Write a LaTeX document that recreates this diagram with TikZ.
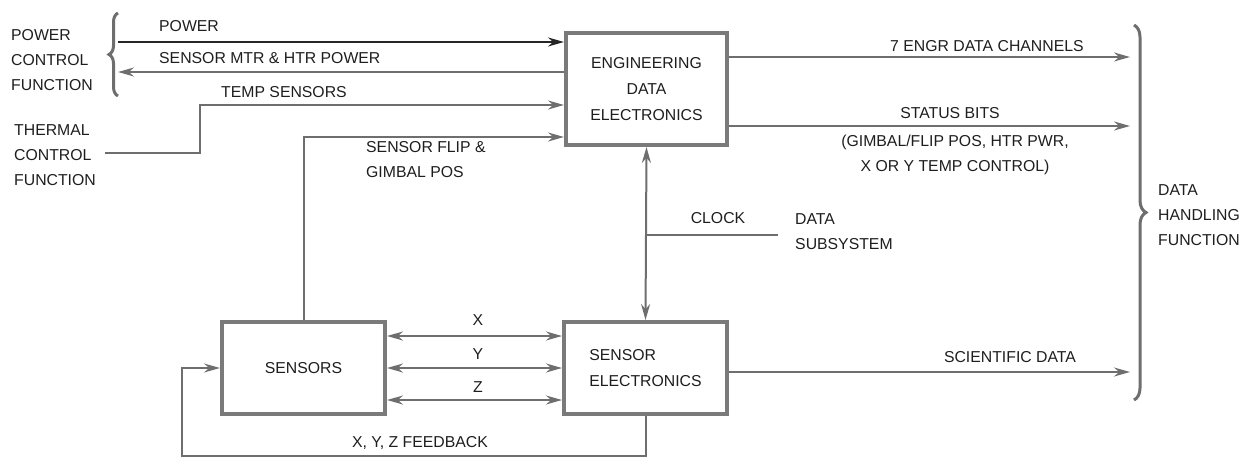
\documentclass[tikz,border=0pt]{standalone}
\usepackage{fontspec}
\setmainfont{Liberation Sans}
\usetikzlibrary{arrows.meta,calc,decorations.pathreplacing}
\definecolor{ln}{HTML}{6E6E6E}
\definecolor{bx}{HTML}{7A7A7A}
\definecolor{tx}{HTML}{1E1E1E}
\tikzset{
  lbl/.style={text=tx,font=\fontsize{15.8}{25}\selectfont,inner sep=0pt},
  blk/.style={draw=bx,line width=4pt,fill=white,text=tx,font=\fontsize{15.8}{26}\selectfont},
  wire/.style={draw=ln,line width=2pt},
  arr/.style={wire,-{Stealth[length=16pt,width=9pt]}},
  arrb/.style={wire,{Stealth[length=16pt,width=9pt]}-{Stealth[length=16pt,width=9pt]}},
  darr/.style={draw=black!85,line width=2pt,-{Stealth[length=16pt,width=9pt]}},
  brc/.style={draw=ln,line width=3pt,decorate},
}
\begin{document}
\begin{tikzpicture}[x=1pt,y=-1pt]
\useasboundingbox (0,0) rectangle (1249,459);
% blocks
\node[blk,minimum width=161pt,minimum height=112pt,align=center] (eng) at (646.5,89) {ENGINEERING\\DATA\\ELECTRONICS};
\node[blk,minimum width=163pt,minimum height=92pt] (sens) at (303.5,368) {SENSORS};
\node[blk,minimum width=163pt,minimum height=92pt,align=left] (se) at (645.5,368) {SENSOR\\ELECTRONICS};
% left side
\node[lbl,align=left,anchor=west] (pcf) at (11,60) {POWER\\CONTROL\\FUNCTION};
\node[lbl,align=left,anchor=west] (tcf) at (14,155) {THERMAL\\CONTROL\\FUNCTION};
\coordinate (b1) at (118,96);
\coordinate (b2) at (118,13);
\draw[brc,decoration={brace,amplitude=9pt}] (b1) -- (b2);
\coordinate (pw) at (118,42);
\coordinate (mtr) at (118,72);
\coordinate (tc) at (105,153);
\draw[darr] (pw) -- (pw -| eng.west);
\draw[arr] (mtr -| eng.west) -- (mtr);
\draw[arr] (tc) -- ++(95,0) |- ($(eng.west)+(0,16)$);
\node[lbl,anchor=west] (lpw) at (159,26) {POWER};
\node[lbl,anchor=west] (lmtr) at (159,58) {SENSOR MTR \& HTR POWER};
\node[lbl,anchor=west] (ltemp) at (221,92) {TEMP SENSORS};
% sensors to eng
\draw[arr] (sens.north) |- ($(eng.west)+(0,48)$);
\node[lbl,align=left,anchor=west] (lflip) at (366,160) {SENSOR FLIP \&\\GIMBAL POS};
% xyz
\draw[arrb] ($(sens.east)+(0,-32)$) -- ($(se.west)+(0,-32)$);
\draw[arrb] (sens.east) -- (se.west);
\draw[arrb] ($(sens.east)+(0,32)$) -- ($(se.west)+(0,32)$);
\node[lbl] (lx) at (478,320) {X};
\node[lbl] (ly) at (478,354) {Y};
\node[lbl] (lz) at (478,387) {Z};
% feedback
\coordinate (fbl) at (182,456);
\draw[arr] (se.south) |- (fbl) |- (sens.west);
\node[lbl] (lfb) at (420,443) {X, Y, Z FEEDBACK};
% clock
\draw[arrb] (eng.south) -- (se.north);
\coordinate (clk) at (646.5,235);
\coordinate (ds) at (778,235);
\draw[wire] (clk) -- (ds);
\node[lbl] (lclk) at (718,218) {CLOCK};
\node[lbl,align=left,anchor=west] (lds) at (795,232) {DATA\\SUBSYSTEM};
% outputs
\coordinate (dh1) at (1130,57);
\coordinate (dh2) at (1130,126);
\coordinate (dh3) at (1130,372);
\draw[arr] (eng.east |- dh1) -- (dh1);
\draw[arr] (eng.east |- dh2) -- (dh2);
\draw[arr] (se.east |- dh3) -- (dh3);
\node[lbl,anchor=west] (l7) at (890,46) {7 ENGR DATA CHANNELS};
\node[lbl] (lsb) at (950,113) {STATUS BITS};
\node[lbl,align=center] (lsb2) at (955,155) {(GIMBAL/FLIP POS, HTR PWR,\\X OR Y TEMP CONTROL)};
\node[lbl] (lsci) at (1010,357) {SCIENTIFIC DATA};
% right brace
\coordinate (r1) at (1134,25);
\coordinate (r2) at (1134,400);
\draw[brc,decoration={brace,amplitude=12pt}] (r1) -- (r2);
\node[lbl,align=left,anchor=west] (ldh) at (1158,215) {DATA\\HANDLING\\FUNCTION};
\end{tikzpicture}
\end{document}
